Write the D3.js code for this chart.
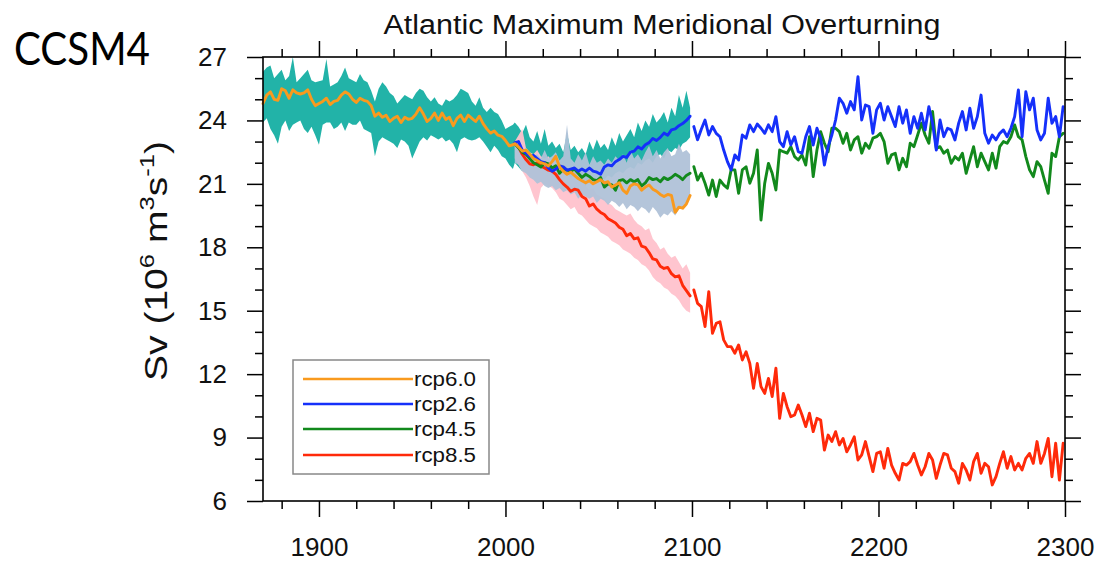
<!DOCTYPE html>
<html><head><meta charset="utf-8">
<script src="https://cdn.jsdelivr.net/npm/d3@7"></script>
<style>body{margin:0;background:#fff}</style>
</head><body>
<svg id="c" width="1100" height="563"></svg>
<script>
// ---------- DATA ----------
const histYears = d3.range(1870, 2005, 2);   // 1870..2004
const histMean = [24.8,25.2,25.35,25.0,24.95,25.5,25.4,25.05,25.45,25.3,
 25.25,25.3,25.45,25.0,24.7,24.8,24.9,25.05,24.75,24.9,
 24.95,25.2,25.35,25.25,25.0,24.85,25.05,24.95,24.9,24.7,
 24.2,24.35,24.15,24.25,23.95,24.1,24.2,23.9,24.15,24.05,
 24.1,24.3,24.6,24.3,23.95,24.1,24.35,24.0,24.35,24.05,
 24.15,23.75,24.1,24.25,23.95,24.25,24.1,23.95,24.2,23.85,
 23.6,23.4,23.5,23.3,23.25,23.05,22.8,22.85];
const histUpper = [26.3,26.5,26.6,26.0,26.2,26.4,25.9,26.1,27.0,25.8,
 26.0,26.2,26.4,25.9,25.8,25.85,25.9,26.9,25.6,25.7,
 25.8,26.1,26.5,26.0,25.9,25.8,26.2,25.9,25.8,25.4,
 24.9,25.5,25.8,25.6,25.3,25.15,24.8,25.0,25.2,25.1,
 25.0,25.3,25.5,25.4,25.1,24.9,25.1,24.8,24.7,25.0,
 24.9,25.0,25.2,25.5,25.4,25.3,24.9,24.7,25.1,24.6,
 24.4,24.6,24.4,24.3,24.0,23.6,23.7,23.8];
const histLower = [23.9,24.1,23.6,23.3,22.9,23.7,24.0,23.5,23.8,23.9,
 24.0,23.6,23.4,23.7,23.3,22.85,23.8,23.9,23.9,23.6,
 23.7,23.9,23.5,23.9,23.8,23.8,24.0,23.6,23.5,23.4,
 22.3,23.0,23.2,23.1,23.0,22.9,22.7,23.1,23.0,22.8,
 22.2,22.6,23.0,23.2,23.05,23.3,23.2,23.1,23.2,23.0,
 23.1,22.9,22.5,23.1,23.2,23.1,23.05,23.1,23.2,23.0,
 22.75,22.5,22.8,22.6,22.3,22.2,21.9,21.7];

const scenYears = d3.range(2005, 2100, 2);   // 2005..2099
const rcp60 = [22.9,22.75,22.55,22.6,22.4,22.2,22.1,22.0,21.95,21.85,
 22.05,22.3,21.8,21.6,21.45,21.55,21.4,21.25,21.15,21.05,
 21.15,21.0,21.1,21.2,21.05,21.1,20.85,20.95,21.05,20.7,
 20.55,20.9,21.0,20.95,20.7,20.85,20.95,20.75,20.65,20.5,
 20.4,20.5,20.45,19.65,19.9,19.85,20.05,20.45];
const rcp26 = [22.95,23.0,22.6,22.45,22.3,22.35,22.2,22.05,22.0,21.75,
 21.6,21.7,21.85,21.8,21.65,21.7,21.75,21.6,21.7,21.6,
 21.75,21.6,21.55,21.45,21.8,21.9,21.85,22.05,22.15,22.3,
 22.25,22.5,22.55,22.75,22.65,22.85,22.95,23.15,23.05,23.2,
 23.4,23.3,23.55,23.6,23.75,23.85,24.0,24.2];
const rcp45 = [22.9,22.7,22.5,22.4,22.2,22.0,21.9,21.8,22.0,21.95,
 21.75,21.85,21.5,21.7,21.65,21.6,21.7,21.5,21.3,21.45,
 21.35,21.2,21.15,21.3,20.85,21.0,20.95,20.7,21.15,21.2,
 21.05,21.2,21.1,21.2,20.9,21.05,21.3,21.2,21.25,21.1,
 21.3,21.2,21.3,21.45,21.35,21.2,21.4,21.5];
const rcp85 = [22.9,22.75,22.4,22.15,21.95,21.9,22.0,21.85,21.75,21.65,
 21.6,21.45,21.2,21.0,20.85,20.65,20.75,20.7,20.4,20.3,
 19.95,20.05,19.8,19.65,19.55,19.35,19.25,19.15,18.95,18.85,
 18.55,18.65,18.4,18.45,18.05,18.0,17.75,17.45,17.4,17.1,
 17.0,17.05,16.75,16.6,16.65,16.2,15.95,15.7];
const rcp26Upper = [23.9,23.7,23.4,23.8,23.2,23.0,23.5,22.9,23.6,22.8,
 23.0,22.7,22.9,22.5,23.4,22.6,22.8,22.5,22.7,22.4,
 23.0,22.6,23.1,22.7,22.9,22.6,23.2,22.8,23.4,23.0,
 23.3,23.6,23.2,23.9,23.5,24.0,23.7,24.3,23.9,24.1,
 24.4,23.9,24.6,24.2,25.2,24.6,25.4,24.6];
const rcp26Lower = [22.0,21.8,21.6,21.7,21.4,21.5,21.3,21.2,21.4,21.0,
 21.2,20.9,21.1,21.0,20.9,21.1,20.8,21.0,21.1,20.9,
 21.2,21.0,21.1,21.3,21.2,21.4,21.3,21.5,21.6,21.5,
 21.7,21.8,21.7,22.0,21.9,22.1,22.2,22.0,22.3,22.4,
 22.2,22.6,22.5,22.7,22.6,22.9,23.0,23.2];
const rcp45Upper = [23.0,22.8,22.6,22.7,22.5,22.3,22.4,22.2,22.6,22.2,
 22.3,22.5,22.1,22.3,23.8,22.2,22.0,22.4,22.1,22.5,
 21.9,22.3,22.0,22.1,21.9,22.2,22.0,22.3,22.1,22.4,
 22.0,22.6,22.2,22.4,22.1,22.5,22.8,22.3,22.6,22.2,
 22.5,22.7,22.3,22.4,22.9,22.5,22.6,22.4];
const rcp45Lower = [22.0,21.9,21.6,21.5,21.3,21.2,21.0,21.1,20.9,20.8,
 20.9,20.7,20.8,20.6,20.7,20.5,20.6,20.3,20.5,20.4,
 20.3,20.4,20.1,20.3,20.2,20.0,20.2,20.1,19.9,20.1,
 19.8,20.0,19.9,19.7,19.9,19.8,19.6,19.9,19.7,19.4,
 19.6,19.5,19.7,19.5,19.8,19.9,20.1,20.4];
const rcp85Upper = [23.0,23.3,23.6,22.7,22.5,22.4,22.6,22.3,22.2,22.3,
 22.1,22.0,21.8,21.6,21.5,21.3,21.4,21.2,21.1,20.9,
 20.7,20.8,20.5,20.4,20.3,20.1,20.0,19.8,19.7,19.6,
 19.5,19.6,19.3,19.1,19.0,18.8,18.9,18.4,18.2,17.9,
 18.0,17.7,17.5,17.6,17.3,17.0,17.2,16.8];
const rcp85Lower = [22.2,21.9,21.6,21.3,20.9,20.4,20.0,20.8,21.0,20.9,
 20.8,20.6,20.3,20.2,20.0,19.8,19.9,19.6,19.5,19.3,
 19.1,19.0,18.9,18.7,18.6,18.5,18.3,18.2,18.1,17.9,
 17.8,17.7,17.5,17.4,17.2,17.1,16.9,16.6,16.4,16.3,
 16.1,16.0,15.8,15.7,15.5,15.2,15.0,14.9];

const extYears = d3.range(2101, 2300, 2);    // 2101..2299
const ext26 = [23.71,23.08,23.58,24.02,23.31,23.71,23.39,23.23,22.6,22.05,
 21.66,22.37,22.13,23.31,23.16,23.79,23.47,23.83,23.63,23.39,
 23.79,23.47,24.18,23.0,22.76,23.47,22.84,23.23,22.52,22.45,
 23.23,23.71,22.84,23.63,23.16,21.89,22.76,23.31,24.02,25.05,
 24.81,24.34,24.89,24.5,26.07,24.02,24.73,24.65,23.39,24.5,
 24.81,24.02,24.65,24.18,23.71,24.65,23.87,24.5,23.39,24.18,
 23.63,24.34,23.55,24.65,23.87,22.6,24.02,23.23,23.63,23.55,
 23.08,23.87,24.42,23.55,24.58,23.63,24.18,25.2,23.39,22.92,
 23.31,23.08,23.39,23.55,23.23,23.63,24.18,25.44,23.23,25.36,
 24.5,25.05,23.55,23.08,23.39,25.05,23.87,24.18,23.23,24.65];
const ext45 = [21.81,21.18,21.5,21.03,20.47,21.18,20.4,21.18,20.95,20.79,
 21.66,21.66,20.55,21.66,21.81,21.03,21.5,22.6,19.29,21.03,
 21.97,21.5,20.71,22.6,22.52,22.45,22.76,22.29,22.13,22.37,
 21.89,23.23,21.34,22.6,23.47,22.92,22.52,23.63,23.63,23.47,
 22.92,23.39,22.6,23.08,23.23,22.45,22.92,22.68,23.16,23.23,
 23.39,23.0,21.97,22.37,22.45,21.66,22.21,21.81,22.92,22.76,
 23.31,23.87,23.31,22.92,24.42,22.68,22.76,22.45,22.6,21.97,
 22.29,22.13,22.45,21.5,22.13,22.76,21.81,22.45,22.05,21.66,
 22.45,21.74,22.76,23.0,22.92,23.23,23.79,23.23,23.08,22.29,
 21.66,21.34,22.05,21.81,21.18,20.55,22.45,22.29,23.23,23.39];
const ext85 = [15.98,15.35,15.19,14.25,15.9,13.93,14.4,14.48,13.62,13.3,
 13.3,12.99,13.38,12.67,13.06,12.51,11.33,12.51,11.41,11.09,
 11.8,10.94,12.28,9.91,11.09,10.46,9.99,10.07,10.54,10.07,
 9.52,10.15,9.28,9.91,9.83,8.41,9.12,8.81,9.28,8.65,
 8.96,8.33,8.65,9.04,7.94,8.18,8.81,8.1,7.39,8.25,
 8.33,7.55,8.49,7.7,7.31,6.99,7.78,7.7,7.86,8.25,
 7.7,7.23,7.62,8.25,7.94,7.07,7.7,8.25,8.18,7.55,
 7.39,6.84,7.78,7.47,6.99,7.86,8.25,7.31,7.78,7.62,
 6.76,7.15,7.78,8.33,7.55,8.1,7.47,7.78,7.47,8.02,
 8.25,7.78,8.81,7.78,8.25,8.96,7.15,8.73,6.99,8.73];

const xMajor = [1900, 2000, 2100, 2200, 2300];
const xMinor = d3.range(1880, 2300, 20).filter(v => v % 100 !== 0);
const yMajor = [6, 9, 12, 15, 18, 21, 24, 27];
const yMinor = d3.range(7, 27, 1).filter(v => v % 3 !== 0);
const legendLabels = ["rcp6.0", "rcp2.6", "rcp4.5", "rcp8.5"];
const legendColors = ["#F99A1E", "#1530FA", "#12891C", "#FF2A0A"];

// ---------- CHART ----------
const svg = d3.select("#c");
const W = 1100, H = 563;
const L = 263, R = 1065, T = 57, B = 501;
const x = d3.scaleLinear().domain([1870, 2300]).range([L, R]);
const y = d3.scaleLinear().domain([6, 27]).range([B, T]);
const FONT = "'Liberation Sans', Arial, Helvetica, sans-serif";

svg.append("rect").attr("width", W).attr("height", H).attr("fill", "#fff");

const zip = (xs, ys) => xs.map((d, i) => [d, ys[i]]);
const zip3 = (xs, lo, hi) => xs.map((d, i) => [d, lo[i], hi[i]]);
const area = d3.area().x(d => x(d[0])).y0(d => y(d[1])).y1(d => y(d[2]));
const line = d3.line().x(d => x(d[0])).y(d => y(d[1]));

const g = svg.append("g");
// bands
g.append("path")
  .attr("d", area(zip3(histYears.concat(scenYears), histLower.concat(rcp26Lower), histUpper.concat(rcp26Upper))))
  .attr("fill", "#22B3A8");
g.append("path").attr("d", area(zip3(scenYears, rcp85Lower, rcp85Upper))).attr("fill", "#FFC2CC").attr("opacity", 0.95);
g.append("path").attr("d", area(zip3(scenYears, rcp45Lower, rcp45Upper))).attr("fill", "#B0C2D8").attr("opacity", 0.95);

function drawLine(data, color) {
  g.append("path").attr("d", line(data)).attr("fill", "none")
    .attr("stroke", color).attr("stroke-width", 2.9)
    .attr("stroke-linejoin", "round").attr("stroke-linecap", "round");
}
drawLine(zip(scenYears, rcp85), legendColors[3]);
drawLine(zip(extYears, ext85), legendColors[3]);
drawLine(zip(scenYears, rcp45), legendColors[2]);
drawLine(zip(extYears, ext45), legendColors[2]);
drawLine(zip(scenYears, rcp26), legendColors[1]);
drawLine(zip(extYears, ext26), legendColors[1]);
drawLine(zip(histYears.concat(scenYears), histMean.concat(rcp60)), legendColors[0]);

// frame
svg.append("rect").attr("x", L).attr("y", T).attr("width", R - L).attr("height", B - T)
  .attr("fill", "none").attr("stroke", "#000").attr("stroke-width", 1.6);

function styleAxis(sel) {
  sel.select(".domain").remove();
  sel.selectAll("line").attr("stroke", "#000").attr("stroke-width", 1.5);
  sel.selectAll("text").attr("font-family", FONT).attr("font-size", 26).attr("fill", "#111");
}
// bottom
svg.append("g").attr("transform", `translate(0,${B})`)
  .call(d3.axisBottom(x).tickValues(xMajor).tickSize(16).tickPadding(21).tickFormat(d3.format("d")))
  .call(styleAxis);
svg.append("g").attr("transform", `translate(0,${B})`)
  .call(d3.axisBottom(x).tickValues(xMinor).tickSize(8).tickFormat("")).call(styleAxis);
// top
svg.append("g").attr("transform", `translate(0,${T})`)
  .call(d3.axisTop(x).tickValues(xMajor).tickSize(16).tickFormat("")).call(styleAxis);
svg.append("g").attr("transform", `translate(0,${T})`)
  .call(d3.axisTop(x).tickValues(xMinor).tickSize(8).tickFormat("")).call(styleAxis);
// left
svg.append("g").attr("transform", `translate(${L},0)`)
  .call(d3.axisLeft(y).tickValues(yMajor).tickSize(16).tickPadding(20).tickFormat(d3.format("d")))
  .call(styleAxis);
svg.append("g").attr("transform", `translate(${L},0)`)
  .call(d3.axisLeft(y).tickValues(yMinor).tickSize(8).tickFormat("")).call(styleAxis);
// right
svg.append("g").attr("transform", `translate(${R},0)`)
  .call(d3.axisRight(y).tickValues(yMajor).tickSize(16).tickFormat("")).call(styleAxis);
svg.append("g").attr("transform", `translate(${R},0)`)
  .call(d3.axisRight(y).tickValues(yMinor).tickSize(8).tickFormat("")).call(styleAxis);

// title
svg.append("text").attr("x", (L + R) / 2 - 2).attr("y", 34)
  .attr("text-anchor", "middle").attr("font-family", FONT).attr("font-size", 27)
  .attr("textLength", 557).attr("lengthAdjust", "spacingAndGlyphs")
  .attr("fill", "#111").text("Atlantic Maximum Meridional Overturning");

// model label
svg.append("text").attr("x", 14).attr("y", 65)
  .attr("font-family", "Lato, 'Open Sans', sans-serif").attr("font-size", 46)
  .attr("textLength", 136).attr("lengthAdjust", "spacingAndGlyphs")
  .attr("fill", "#000").text("CCSM4");

// y label
const yl = svg.append("text")
  .attr("transform", `translate(167,${(T + B) / 2 - 18}) rotate(-90)`)
  .attr("text-anchor", "middle").attr("font-family", FONT).attr("font-size", 32)
  .attr("textLength", 240).attr("lengthAdjust", "spacingAndGlyphs")
  .attr("fill", "#111");
yl.append("tspan").text("Sv (10");
yl.append("tspan").attr("dy", -13).attr("font-size", 21).text("6");
yl.append("tspan").attr("dy", 13).text(" m");
yl.append("tspan").attr("dy", -13).attr("font-size", 21).text("3");
yl.append("tspan").attr("dy", 13).text("s");
yl.append("tspan").attr("dy", -13).attr("font-size", 21).text("-1");
yl.append("tspan").attr("dy", 13).text(")");

// legend
const lg = svg.append("g");
lg.append("rect").attr("x", 293).attr("y", 360).attr("width", 196).attr("height", 114)
  .attr("fill", "#fff").attr("stroke", "#888").attr("stroke-width", 1.5);
const rowY = [379, 404, 429, 455];
legendLabels.forEach((lab, i) => {
  lg.append("line").attr("x1", 303).attr("x2", 413).attr("y1", rowY[i]).attr("y2", rowY[i])
    .attr("stroke", legendColors[i]).attr("stroke-width", 2.6);
  lg.append("text").attr("x", 414).attr("y", rowY[i]).attr("dy", "0.35em")
    .attr("font-family", FONT).attr("font-size", 20)
    .attr("textLength", 62).attr("lengthAdjust", "spacingAndGlyphs")
    .attr("fill", "#111").text(lab);
});
</script>
</body></html>
